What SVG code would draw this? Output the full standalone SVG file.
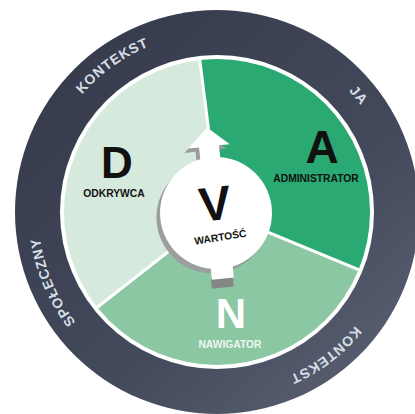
<svg xmlns="http://www.w3.org/2000/svg" width="415" height="414" viewBox="0 0 415 414">
  <defs>
    <linearGradient id="ringGrad" x1="0.15" y1="0.05" x2="0.95" y2="0.95">
      <stop offset="0" stop-color="#363b4c"/>
      <stop offset="0.6" stop-color="#434a5b"/>
      <stop offset="1" stop-color="#5c6273"/>
    </linearGradient>
    <clipPath id="discClip">
      <circle cx="217" cy="212" r="153"/>
    </clipPath>
    <path id="ringPath" d="M 396,212 A 179,179 0 1 1 38,212 A 179,179 0 1 1 396,212 Z" fill="none"/>
    <style>
      .big { font-family: "Liberation Sans", Arial, sans-serif; font-weight: bold; text-anchor: middle; }
      .lbl { font-family: "Liberation Sans", Arial, sans-serif; font-weight: bold; text-anchor: middle; font-size: 10.3px; }
      .ring { font-family: "Liberation Sans", Arial, sans-serif; font-weight: bold; font-size: 14px; fill: #d6dfe6; letter-spacing: 0.8px; text-anchor: middle; }
      .divider { stroke: #ffffff; stroke-width: 3; fill: none; }
    </style>
  </defs>

  <rect width="415" height="414" fill="#ffffff"/>

  <g id="outer-ring">
    <circle cx="217" cy="212" r="202" fill="url(#ringGrad)"/>
    <circle cx="217" cy="212" r="157" fill="#ffffff"/>
    <text class="ring"><textPath href="#ringPath" startOffset="732">KONTEKST</textPath></text>
    <text class="ring"><textPath href="#ringPath" startOffset="1001">JA</textPath></text>
    <text class="ring"><textPath href="#ringPath" startOffset="490">SPOŁECZNY</textPath></text>
    <text class="ring"><textPath href="#ringPath" startOffset="165">KONTEKST</textPath></text>
  </g>

  <g clip-path="url(#discClip)">
    <g id="segment-D">
      <path d="M 219,212 L 81,320 A 175,175 0 0 1 197,38 Z" fill="#d5e9dd"/>
    </g>
    <g id="segment-A">
      <path d="M 219,212 L 197,38 A 175,175 0 0 1 381,279 Z" fill="#2aa973"/>
    </g>
    <g id="segment-N">
      <path d="M 219,212 L 381,279 A 175,175 0 0 1 81,320 Z" fill="#8cc7a3"/>
    </g>
    <g id="connectors">
      <line class="divider" x1="219" y1="212" x2="197" y2="38"/>
      <line class="divider" x1="219" y1="212" x2="381" y2="279"/>
      <line class="divider" x1="219" y1="212" x2="81" y2="320"/>
    </g>
  </g>

  <g id="label-D">
    <text class="big" x="117" y="178" font-size="44" fill="#111111">D</text>
    <text class="lbl" x="114" y="197" fill="#111111">ODKRYWCA</text>
  </g>
  <g id="label-A">
    <text class="big" x="322" y="163" font-size="46" fill="#111111">A</text>
    <text class="lbl" x="316" y="182" fill="#111111">ADMINISTRATOR</text>
  </g>
  <g id="label-N">
    <text class="big" x="231" y="328" font-size="42" fill="#ffffff">N</text>
    <text class="lbl" x="230" y="348" font-size="10.5" fill="#eef6f1">NAWIGATOR</text>
  </g>

  <g id="center-V" transform="translate(216,213) rotate(-6)">
    <g fill="#9a9e9c">
      <circle cx="-4" cy="4" r="56"/>
      <path d="M -4,-82 L 17,-63 L 6,-63 L 6,-40 L -14,-40 L -14,-63 L -25,-63 Z"/>
    </g>
    <rect x="-12" y="65" width="22" height="10" fill="#838886"/>
    <g fill="#ffffff">
      <circle cx="0" cy="0" r="56"/>
      <path d="M 0,-86 L 21,-67 L 10,-67 L 10,-45 L -10,-45 L -10,-67 L -21,-67 Z"/>
      <rect x="-11" y="45" width="22" height="21"/>
    </g>
    <text class="big" x="0" y="7" font-size="48" fill="#111111">V</text>
    <text class="lbl" x="2" y="28" font-size="11.5" fill="#111111" transform="rotate(-3,2,28)">WARTOŚĆ</text>
  </g>
</svg>
